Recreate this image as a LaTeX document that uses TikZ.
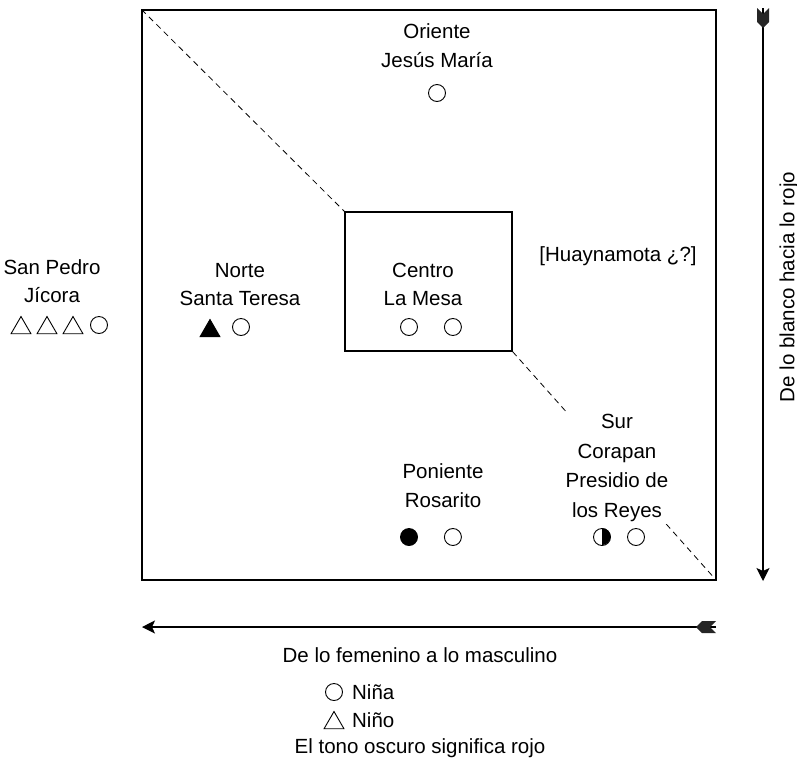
\documentclass[tikz,border=0pt]{standalone}
\usepackage{fontspec}
\setmainfont{Liberation Sans}
\usetikzlibrary{arrows.meta,
                positioning,
                shapes.geometric}
\tikzset{
        txt/.style={align=center, inner sep=1pt,
                    font=\fontsize{20.5}{28.5}\selectfont},
        nina/.style={circle, draw, line width=0.9pt, minimum size=17pt,
                     inner sep=0pt},
        nino/.style={regular polygon, regular polygon sides=3, draw,
                     line width=0.9pt, minimum size=23pt, inner sep=0pt},
        box/.style={draw, line width=1.1pt, inner sep=0pt},
        diag/.style={line width=0.8pt, dash pattern=on 6pt off 4.5pt},
        axis/.style={line width=1.3pt, -{Stealth[length=13pt, width=13pt, inset=3pt]}},
        pluma/.style={fill=black!85},
 }
\begin{document}
\begin{tikzpicture}[x=1pt, y=-1pt]
    \useasboundingbox (0,0) rectangle (797,764);

    % cuadros
    \node[box, minimum width=574pt, minimum height=570pt] (outer) at (429,295) {};
    \node[box, minimum width=167pt, minimum height=139pt] (inner) at (428.5,281.5) {};
    \draw[diag] (outer.north west) -- (inner.north west);
    \draw[diag] (inner.south east) -- (outer.south east);

    % rumbos
    \node[txt] (ori) at (437,45.5) {Oriente\\Jesús María};
    \node[nina] (ori1) at (437,93) {};

    \node[txt] (cen) at (423,284.5) {Centro\\La Mesa};
    \node[nina] (cen1) at (409,327) {};
    \node[nina, right=26pt of cen1] (cen2) {};

    \node[txt] (nor) at (240,284.5) {Norte\\Santa Teresa};
    \node[nino, fill=black] (nor1) at (210,331) {};
    \node[nina] (nor2) at (241,327) {};

    \node[txt] (hua) at (618,256) {[Huaynamota ¿?]};

    \node[txt] (spj) at (52,281) {San Pedro\\Jícora};
    \node[nino] (spj1) at (21,328) {};
    \node[nino] (spj2) at (47,328) {};
    \node[nino] (spj3) at (73,328) {};
    \node[nina] (spj4) at (99,325) {};

    \node[txt] (pon) at (443,485.5) {Poniente\\Rosarito};
    \node[nina, fill=black] (pon1) at (409,537) {};
    \node[nina, right=26pt of pon1] (pon2) {};

    \node[txt, fill=white, inner sep=2pt, font=\fontsize{20.5}{29.5}\selectfont]
         (sur) at (617,468) {Sur\\Corapan\\Presidio de\\los Reyes};
    \node[nina] (sur1) at (602,537) {};
    \fill (sur1.north) arc[start angle=90, end angle=-90, radius=8.5pt] -- cycle;
    \node[nina] (sur2) at (636,537) {};

    % ejes
    \coordinate (vtop) at (763,8);
    \coordinate (vbot) at (763,581);
    \draw[axis] (vtop) -- (vbot);
    \fill[pluma, shift={(vtop)}] (-6,0) -- (0,6) -- (6,0) -- (6,14)
         -- (0,20) -- (-6,14) -- cycle;
    \node[txt, rotate=90] (vlab) at (789,287) {De lo blanco hacia lo rojo};

    \coordinate (hright) at (716,627);
    \coordinate (hleft) at (142,627);
    \draw[axis] (hright) -- (hleft);
    \fill[pluma, shift={(hright)}] (0,-6) -- (-6,0) -- (0,6) -- (-14,6)
         -- (-20,0) -- (-14,-6) -- cycle;
    \node[txt] (hlab) at (420,655) {De lo femenino a lo masculino};

    % leyenda
    \node[nina] (ley1) at (334,692) {};
    \node[txt, right=8pt of ley1] (ley1t) {Niña};
    \node[nino] (ley2) at (334,723) {};
    \node[txt, anchor=west] (ley2t) at (ley1t.west |- 0,720) {Niño};
    \node[txt] (ley3) at (420,748) {El tono oscuro significa rojo};
\end{tikzpicture}
\end{document}
